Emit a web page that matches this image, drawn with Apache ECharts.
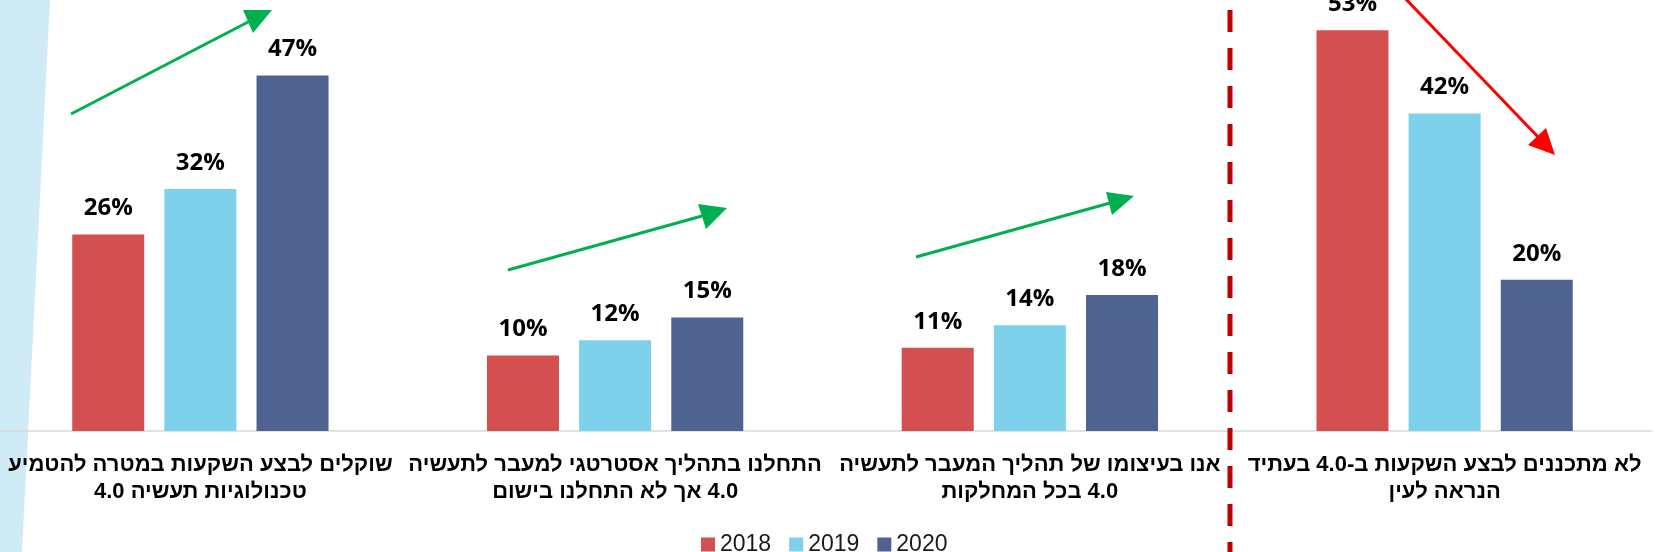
<!DOCTYPE html>
<html>
<head>
<meta charset="utf-8">
<script src="https://cdn.jsdelivr.net/npm/echarts@6/dist/echarts.min.js"></script>
<style>
  html, body { margin: 0; padding: 0; background: #fff; overflow: hidden; }
  #main { position: relative; left: -7px; width: 1663px; height: 552px; }
</style>
</head>
<body>
<div id="main" dir="rtl"></div>
<script>
var categories = [
    'שוקלים לבצע השקעות במטרה להטמיע\nטכנולוגיות תעשיה 4.0',
    'התחלנו בתהליך אסטרטגי למעבר לתעשיה\n4.0 אך לא התחלנו בישום',
    'אנו בעיצומו של תהליך המעבר לתעשיה\n4.0 בכל המחלקות',
    'לא מתכננים לבצע השקעות ב-4.0 בעתיד\nהנראה לעין'
];
var years = ['2018', '2019', '2020'];
var v2018 = [26, 10, 11, 53];
var v2019 = [32, 12, 14, 42];
var v2020 = [47, 15, 18, 20];

var myChart = echarts.init(document.getElementById('main'));

// arrow: shaft + triangle head (page coords, group shifts them)
function arrow(x1, y1, x2, y2, head, color) {
    return [
        { type: 'line', shape: { x1: x1, y1: y1, x2: x2, y2: y2 },
          style: { stroke: color, lineWidth: 3 }, z: 10 },
        { type: 'polygon', shape: { points: head },
          style: { fill: color }, z: 10 }
    ];
}

var shapes = [
    { type: 'polygon', shape: { points: [[-10, 0], [50, 0], [22, 552], [-10, 552]] },
      style: { fill: '#CFECF6' }, z: -1 },
    { type: 'line', shape: { x1: 1230, y1: 10, x2: 1230, y2: 552 },
      style: { stroke: '#C00000', lineWidth: 5, lineDash: [22, 16] }, z: 10 }
];
shapes = shapes
    .concat(arrow(71, 114, 250, 21, [[243, 10], [272, 10], [253, 33]], '#00B050'))
    .concat(arrow(508, 270, 702, 216, [[698, 204], [727, 208], [706, 229]], '#00B050'))
    .concat(arrow(916, 257, 1110, 203, [[1106, 192], [1134, 196], [1112, 215]], '#00B050'))
    .concat(arrow(1400, -7, 1540, 139, [[1528, 145], [1555, 155], [1546, 128]], '#FF0000'));

var labelStyle = {
    show: true,
    position: 'top',
    distance: 14,
    formatter: '{c}%',
    color: '#000',
    fontFamily: 'Open Sans',
    fontWeight: 'bold',
    fontSize: 24
};

option = {
    animation: false,
    color: ['#D34F50', '#7DD1EA', '#4E638F'],
    legend: {
        data: years,
        left: 703,
        top: 528,
        icon: 'rect',
        itemWidth: 14,
        itemHeight: 14,
        itemGap: 18,
        textStyle: {
            color: '#1a1a1a',
            fontFamily: 'Liberation Sans',
            fontSize: 23
        }
    },
    grid: { left: 0, right: 4, top: 0, bottom: 121 },
    xAxis: {
        type: 'category',
        data: categories,
        axisTick: { show: false },
        axisLine: { show: true, lineStyle: { color: '#D9D9D9', width: 1.5 } },
        axisLabel: {
            interval: 0,
            margin: 20,
            color: '#000',
            fontFamily: 'Liberation Sans',
            fontWeight: 'bold',
            fontSize: 22,
            lineHeight: 27,
            align: 'center'
        }
    },
    yAxis: {
        type: 'value',
        min: 0,
        max: 57,
        show: false,
        splitLine: { show: false }
    },
    series: [
        { name: years[0], type: 'bar', barWidth: 72, barGap: '28%', label: labelStyle, data: v2018 },
        { name: years[1], type: 'bar', barWidth: 72, barGap: '28%', label: labelStyle, data: v2019 },
        { name: years[2], type: 'bar', barWidth: 72, barGap: '28%', label: labelStyle, data: v2020 }
    ],
    graphic: [{ type: 'group', x: 7, y: 0, children: shapes }]
};
myChart.setOption(option);
</script>
</body>
</html>
